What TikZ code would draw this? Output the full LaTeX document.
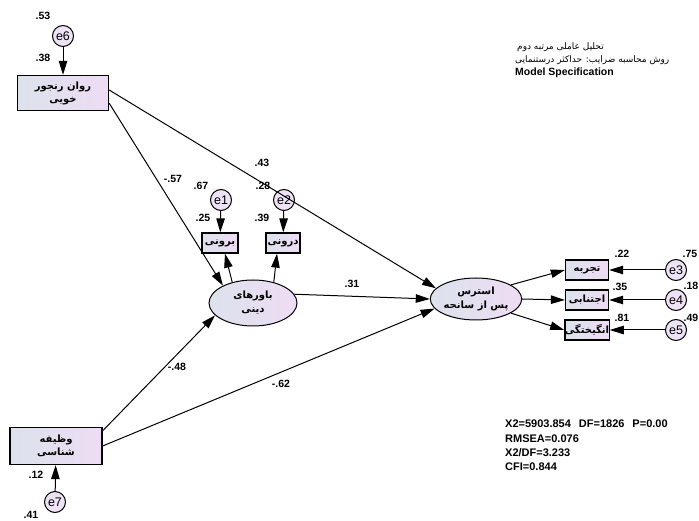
\documentclass[tikz,border=0pt]{standalone}
\usepackage{fontspec}
\setmainfont{Liberation Sans}
\newfontfamily\arabicfont[Script=Arabic]{DejaVu Sans}
\TeXXeTstate=1
\usetikzlibrary{arrows.meta,shapes.geometric}
\newcommand{\fatext}[1]{{\arabicfont\bfseries\beginR #1\endR}}
\definecolor{boxL}{HTML}{DCE2EC}
\definecolor{boxR}{HTML}{EEDCF4}
\definecolor{errc}{HTML}{EEE2F5}
\tikzset{
  obs/.style={draw, line width=1.3pt, left color=boxL, right color=boxR, inner sep=0pt, align=center, font=\fontsize{10}{13}\selectfont},
  lat/.style={ellipse, draw, line width=1pt, left color=boxL, right color=boxR, inner sep=0pt, align=center, font=\fontsize{10}{14}\selectfont},
  err/.style={circle, draw, line width=1pt, fill=errc, minimum size=21pt, inner sep=0pt, font=\fontsize{12.5}{12}\selectfont},
  num/.style={font=\bfseries\fontsize{10.5}{11}\selectfont, inner sep=0pt},
  arr/.style={-{Triangle[length=14pt,width=8.5pt]}, line width=1pt},
  info/.style={anchor=west, inner sep=0pt}
}
\begin{document}
\begin{tikzpicture}[x=1pt,y=-1pt]
\useasboundingbox (0,0) rectangle (699,521);
% observed boxes
\node[obs, minimum width=91pt, minimum height=35pt] (rb) at (63,93) {\fatext{روان رنجور}\\\fatext{خویی}};
\node[obs, minimum width=92pt, minimum height=37pt] (vb) at (56,446) {\fatext{وظیفه}\\\fatext{شناسی}};
\node[obs, minimum width=36pt, minimum height=20pt] (bor) at (220,243) {\fatext{برونی}};
\node[obs, minimum width=34pt, minimum height=20pt] (dar) at (283,243) {\fatext{درونی}};
\node[obs, minimum width=43pt, minimum height=20pt] (taj) at (587,270) {\fatext{تجربه}};
\node[obs, minimum width=43pt, minimum height=20pt] (ejt) at (587,300) {\fatext{اجتنابی}};
\node[obs, minimum width=43pt, minimum height=20pt] (ang) at (587,330) {\fatext{انگیختگی}};
% latent
\node[lat, minimum width=88pt, minimum height=46pt] (bd) at (253,303) {\fatext{باورهای}\\\fatext{دینی}};
\node[lat, minimum width=86pt, minimum height=42pt] (st) at (476,299) {\fatext{استرس}\\\fatext{پس از سانحه}};
% errors
\node[err] (e6) at (63,36) {e6};
\node[err] (e1) at (221,200) {e1};
\node[err] (e2) at (284,200) {e2};
\node[err] (e3) at (676,270) {e3};
\node[err] (e4) at (676,300) {e4};
\node[err] (e5) at (676,330) {e5};
\node[err] (e7) at (55,502) {e7};
% error arrows
\draw[arr] (e6) -- (rb);
\draw[arr] (e1) -- (bor);
\draw[arr] (e2) -- (dar);
\draw[arr] (e7) -- (vb);
\draw[arr] (e3) -- (taj);
\draw[arr] (e4) -- (ejt);
\draw[arr] (e5) -- (ang);
% structural paths
\draw[arr] (bd.135) -- ([xshift=5pt]bor.south);
\draw[arr] (bd.45) -- ([xshift=-6pt]dar.south);
\draw[arr] ([yshift=8pt]rb.south east) -- (bd.150);
\draw[arr] ([yshift=3pt]rb.east) -- (st.165);
\draw[arr] (bd.12) -- (st.180);
\draw[arr] ([yshift=-4pt]vb.north east) -- (bd.198);
\draw[arr] (vb.east) -- (st.193);
\draw[arr] (st.22) -- (taj.west);
\draw[arr] (st.east) -- (ejt.west);
\draw[arr] (st.338) -- (ang.west);
% labels
\node[num] (l53) at (43,16) {.53};
\node[num] (l38) at (43,58) {.38};
\node[num] (l67) at (201,186) {.67};
\node[num] (l25) at (203,218) {.25};
\node[num] (l28) at (263,186) {.28};
\node[num] (l39) at (262,218) {.39};
\node[num] (l57) at (173,179) {-.57};
\node[num] (l43) at (262,163) {.43};
\node[num] (l31) at (352,284) {.31};
\node[num] (l48) at (177,367) {-.48};
\node[num] (l62) at (281,384) {-.62};
\node[num] (l22) at (622,254) {.22};
\node[num] (l75) at (690,254) {.75};
\node[num] (l35) at (620,287) {.35};
\node[num] (l18) at (691,286) {.18};
\node[num] (l81) at (622,318) {.81};
\node[num] (l49) at (691,318) {.49};
\node[num] (l12) at (36,475) {.12};
\node[num] (l41) at (31,515) {.41};
% info text
\node[info, font=\fontsize{9}{10}\selectfont] (t1) at (517,47) {{\arabicfont\beginR تحلیل عاملی مرتبه دوم\endR}};
\node[info, font=\fontsize{9}{10}\selectfont] (t2) at (515,60) {{\arabicfont\beginR روش محاسبه ضرایب: حداکثر درستنمایی\endR}};
\node[info, font=\bfseries\fontsize{10.5}{12}\selectfont] (t3) at (515,73) {Model Specification};
\node[info, font=\bfseries\fontsize{11}{12}\selectfont] (s1) at (505,424) {X2=5903.854\hspace{8pt}DF=1826\hspace{8pt}P=0.00};
\node[info, font=\bfseries\fontsize{11}{12}\selectfont] (s2) at (505,439) {RMSEA=0.076};
\node[info, font=\bfseries\fontsize{11}{12}\selectfont] (s3) at (505,453) {X2/DF=3.233};
\node[info, font=\bfseries\fontsize{11}{12}\selectfont] (s4) at (505,467) {CFI=0.844};
\end{tikzpicture}
\end{document}
